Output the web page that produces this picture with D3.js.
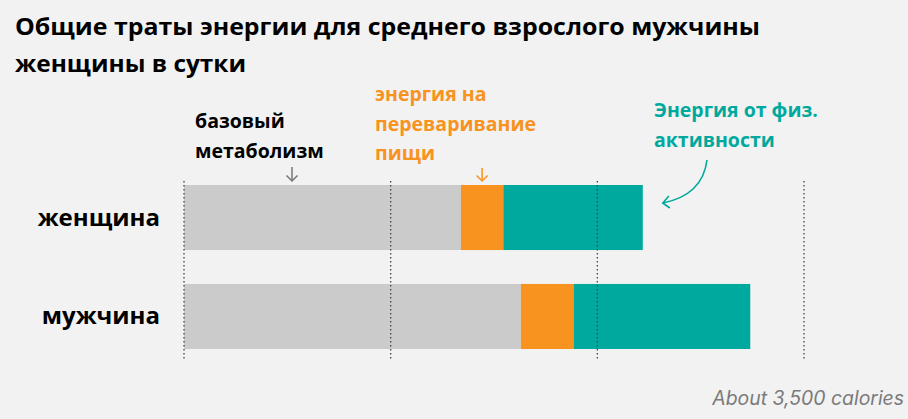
<!DOCTYPE html>
<html>
<head>
<meta charset="utf-8">
<script src="https://cdn.jsdelivr.net/npm/d3@7"></script>
<style>
  body { margin: 0; background: #f2f2f2; }
  svg { display: block; }
  .title { font-family: "Open Sans", sans-serif; font-weight: 700; font-size: 24px; fill: #000; }
  .row-label { font-family: "Open Sans", sans-serif; font-weight: 700; font-size: 24px; fill: #000; }
  .note { font-family: "Open Sans", sans-serif; font-weight: 700; font-size: 19.5px; }
  .grid-line { stroke: #444; stroke-width: 1.3; stroke-dasharray: 1.5 2.5; }
  .footer { font-family: Inter, sans-serif; font-style: italic; font-weight: 400; font-size: 19.4px; fill: #7a7a7a; }
</style>
</head>
<body>
<svg id="chart" width="908" height="419" viewBox="0 0 908 419"></svg>
<script>
const titleLines = ["Общие траты энергии для среднего взрослого мужчины", "женщины в сутки"];
const people = ["женщина", "мужчина"];
const components = ["базовый метаболизм", "переваривание пищи", "физ. активность"];
const basalValues = [1340, 1630];
const digestionValues = [205, 255];
const activityValues = [675, 855];
const gridValues = [0, 1000, 2000, 3000];
const footerText = "About 3,500 calories";

const COLORS = ["#cbcbcb", "#f7931e", "#00a99d"];

const svg = document.getElementById("chart");
const root = d3.select(svg);

const margin = { left: 184, right: 104 };
const xScale = d3.scaleLinear().domain([0, 3000]).range([margin.left, 908 - margin.right]);
const yScale = d3.scaleBand().domain(people).range([185, 349]).paddingInner(0.343).paddingOuter(0);

const rows = people.map((name, index) => {
  const values = [basalValues[index], digestionValues[index], activityValues[index]];
  let start = 0;
  return {
    name,
    segments: values.map((value, seg) => {
      const item = { name, seg, x0: start, x1: start + value };
      start += value;
      return item;
    })
  };
});

// title
root.append("g")
  .selectAll("text")
  .data(titleLines)
  .join("text")
  .attr("class", "title")
  .attr("x", 15)
  .attr("y", (_line, index) => 35 + index * 37)
  .attr("textLength", (_line, index) => index === 0 ? 745 : 231)
  .attr("lengthAdjust", "spacingAndGlyphs")
  .text(line => line);

// bars
root.append("g")
  .selectAll("g")
  .data(rows)
  .join("g")
  .selectAll("rect")
  .data(row => row.segments)
  .join("rect")
  .attr("x", seg => xScale(seg.x0))
  .attr("width", seg => xScale(seg.x1) - xScale(seg.x0))
  .attr("y", seg => yScale(seg.name))
  .attr("height", yScale.bandwidth())
  .attr("fill", seg => COLORS[seg.seg])
  .append("title")
  .text(seg => components[seg.seg]);

// dotted grid
root.append("g")
  .selectAll("line")
  .data(gridValues)
  .join("line")
  .attr("class", "grid-line")
  .attr("x1", tick => xScale(tick))
  .attr("x2", tick => xScale(tick))
  .attr("y1", 181)
  .attr("y2", 360);

// row labels
root.append("g")
  .selectAll("text")
  .data(people)
  .join("text")
  .attr("class", "row-label")
  .attr("x", 160)
  .attr("y", name => yScale(name) + yScale.bandwidth() / 2 + 8)
  .attr("text-anchor", "end")
  .text(name => name);

// annotations
function addNote(x, y, lines, color) {
  root.append("g")
    .selectAll("text")
    .data(lines)
    .join("text")
    .attr("class", "note")
    .attr("x", x)
    .attr("y", (_line, index) => y + index * 29.5)
    .attr("fill", color)
    .text(line => line);
}

addNote(195, 128, ["базовый", "метаболизм"], "#000");
addNote(375, 101, ["энергия на", "переваривание", "пищи"], COLORS[1]);
addNote(654, 117, ["Энергия от физ.", "активности"], COLORS[2]);

function addDownArrow(x, y1, y2, color) {
  const g = root.append("g")
    .attr("stroke", color)
    .attr("stroke-width", 1.5)
    .attr("fill", "none");
  g.append("line").attr("x1", x).attr("x2", x).attr("y1", y1).attr("y2", y2);
  g.append("path").attr("d", `M${x - 5.5},${y2 - 5.5}L${x},${y2}L${x + 5.5},${y2 - 5.5}`);
}

addDownArrow(xScale(basalValues[0] * 0.39), 167, 181, "#777");
addDownArrow(xScale(basalValues[0] + digestionValues[0] / 2), 168, 181, COLORS[1]);

// curved arrow toward activity segment
const curveEnd = [xScale(basalValues[0] + digestionValues[0] + activityValues[0]) + 20, 203];
const arrow = root.append("g")
  .attr("stroke", COLORS[2])
  .attr("stroke-width", 1.6)
  .attr("fill", "none");
arrow.append("path")
  .attr("d", `M707,160C704,184 688,198 ${curveEnd[0]},${curveEnd[1]}`);
arrow.append("path")
  .attr("d", `M${curveEnd[0] + 6},${curveEnd[1] - 7}L${curveEnd[0]},${curveEnd[1]}L${curveEnd[0] + 7},${curveEnd[1] + 5}`);

// footer
root.append("text")
  .attr("class", "footer")
  .attr("x", 904)
  .attr("y", 405)
  .attr("text-anchor", "end")
  .text(footerText);
</script>
</body>
</html>
